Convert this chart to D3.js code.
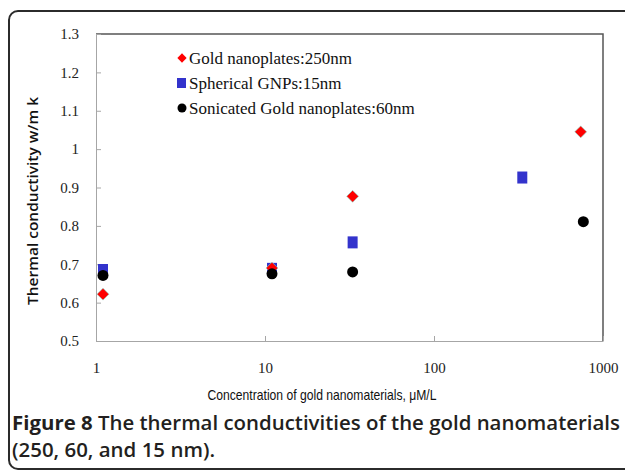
<!DOCTYPE html>
<html>
<head>
<meta charset="UTF-8">
<script src="https://d3js.org/d3.v7.min.js"></script>
<style>
  body { margin: 0; background: #fff; }
  svg { display: block; }
  .tick text { font-family: "Liberation Serif", "Times New Roman", serif; font-size: 15px; fill: #222; }
  .axis path, .axis line { stroke: #a6a6a6; }
</style>
</head>
<body>
<div id="chart"></div>
<script>
// values
const seriesNames = ["Gold nanoplates:250nm", "Spherical GNPs:15nm", "Sonicated Gold nanoplates:60nm"];
const goldConc = [1.1, 11, 33, 738];
const goldK = [0.622, 0.690, 0.877, 1.045];
const sphereConc = [1.1, 11, 33, 333];
const sphereK = [0.685, 0.688, 0.757, 0.926];
const sonicConc = [1.1, 11, 33, 765];
const sonicK = [0.671, 0.675, 0.680, 0.811];
const yTicks = [0.5, 0.6, 0.7, 0.8, 0.9, 1, 1.1, 1.2, 1.3];
const xTicks = [1, 10, 100, 1000];

const W = 625, H = 471;
const m = { left: 96, right: 22, top: 34, bottom: 130 };

const svg = d3.select("#chart").append("svg")
  .attr("width", W).attr("height", H);

// outer frame (rounded, runs off the right edge)
svg.append("rect")
  .attr("x", 9).attr("y", 11)
  .attr("width", 700).attr("height", 458)
  .attr("rx", 9)
  .attr("fill", "none").attr("stroke", "#2b2b2b").attr("stroke-width", 2);

const x = d3.scaleLog().domain([1, 1000]).range([m.left, W - m.right]);
const y = d3.scaleLinear().domain([0.5, 1.3]).range([H - m.bottom, m.top]);

// plot area border (top and right darker)
svg.append("path")
  .attr("d", `M${x(1)},${y(1.3)}H${x(1000)}V${y(0.5)}`)
  .attr("fill", "none").attr("stroke", "#555").attr("stroke-width", 1.5);

svg.append("g")
  .attr("class", "axis")
  .attr("transform", `translate(${x(1)},0)`)
  .call(d3.axisLeft(y).tickValues(yTicks).tickSizeInner(-5).tickSizeOuter(0).tickPadding(17)
    .tickFormat(d3.format("")));

svg.append("g")
  .attr("class", "axis")
  .attr("transform", `translate(0,${y(0.5)})`)
  .call(d3.axisBottom(x).tickValues(xTicks).tickSizeInner(-5).tickSizeOuter(0).tickPadding(21)
    .tickFormat(d3.format("d")));

// markers
const sphere = sphereConc.map((c, i) => ({ c, k: sphereK[i] }));
const gold = goldConc.map((c, i) => ({ c, k: goldK[i] }));
const sonic = sonicConc.map((c, i) => ({ c, k: sonicK[i] }));

svg.append("g").selectAll("rect").data(sphere).enter().append("rect")
  .attr("x", d => x(d.c) - 5).attr("y", d => y(d.k) - 6)
  .attr("width", 10).attr("height", 12)
  .attr("fill", "#3333cc");

const diamond = d3.symbol().type(d3.symbolDiamond2).size(90);
svg.append("g").selectAll("path").data(gold).enter().append("path")
  .attr("transform", d => `translate(${x(d.c)},${y(d.k)})`)
  .attr("d", diamond)
  .attr("fill", "#ff0000").attr("stroke", "#7fd6c8").attr("stroke-width", 0.6);

svg.append("g").selectAll("circle").data(sonic).enter().append("circle")
  .attr("cx", d => x(d.c)).attr("cy", d => y(d.k)).attr("r", 5.5)
  .attr("fill", "#000");

// legend
const lg = svg.append("g").attr("transform", "translate(182,58)");
seriesNames.forEach((name, i) => {
  const row = lg.append("g").attr("transform", `translate(0,${i * 25})`);
  if (i === 0) row.append("path").attr("d", d3.symbol().type(d3.symbolDiamond2).size(55)).attr("fill", "#ff0000");
  if (i === 1) row.append("rect").attr("x", -5).attr("y", -5).attr("width", 9).attr("height", 10).attr("fill", "#3333cc");
  if (i === 2) row.append("circle").attr("r", 4.5).attr("fill", "#000");
  row.append("text")
    .attr("x", 7).attr("y", 5.5)
    .attr("font-family", "Liberation Serif, serif").attr("font-size", 17)
    .attr("fill", "#111")
    .text(name);
});

// axis titles
svg.append("text")
  .attr("x", 322).attr("y", 400)
  .attr("text-anchor", "middle")
  .attr("font-family", "Liberation Sans, Arial, sans-serif").attr("font-size", 14.5)
  .attr("fill", "#111")
  .attr("textLength", 229).attr("lengthAdjust", "spacingAndGlyphs")
  .text("Concentration of gold nanomaterials, μM/L");

svg.append("text")
  .attr("transform", "translate(38,201) rotate(-90)")
  .attr("text-anchor", "middle")
  .attr("font-family", "Open Sans, sans-serif").attr("font-size", 14).attr("font-weight", 600)
  .attr("fill", "#111")
  .attr("textLength", 208).attr("lengthAdjust", "spacingAndGlyphs")
  .text("Thermal conductivity w/m k");

// caption
const cap = svg.append("text")
  .attr("x", 12).attr("y", 430)
  .attr("font-family", "Open Sans, sans-serif").attr("font-size", 19)
  .attr("fill", "#231f20")
  .attr("textLength", 608).attr("lengthAdjust", "spacingAndGlyphs");
cap.append("tspan").attr("font-weight", 700).text("Figure 8");
cap.append("tspan").attr("font-weight", 600).text(" The thermal conductivities of the gold nanomaterials");
svg.append("text")
  .attr("x", 12).attr("y", 457)
  .attr("font-family", "Open Sans, sans-serif").attr("font-size", 19).attr("font-weight", 600)
  .attr("fill", "#231f20")
  .attr("textLength", 203).attr("lengthAdjust", "spacingAndGlyphs")
  .text("(250, 60, and 15 nm).");
</script>
</body>
</html>
